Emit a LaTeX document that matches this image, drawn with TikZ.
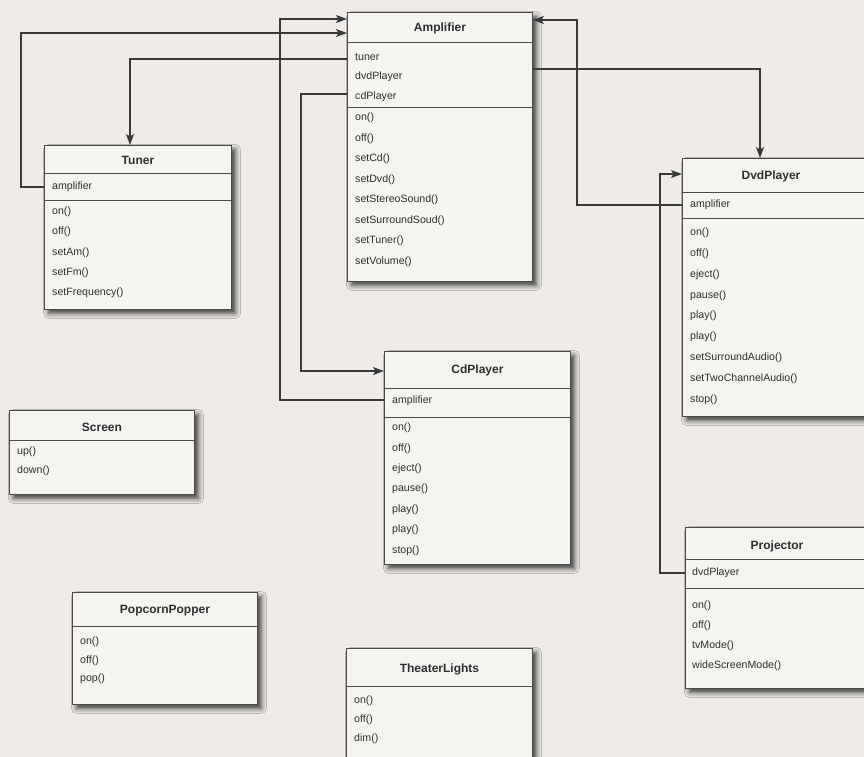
\documentclass[tikz,border=0pt]{standalone}
\usepackage{fontspec}
\setmainfont{Liberation Sans}
\usetikzlibrary{arrows.meta,shadows.blur}
\definecolor{bgc}{HTML}{EEEBE8}
\definecolor{boxfill}{HTML}{F6F4F1}
\definecolor{linec}{HTML}{4A4A4A}
\definecolor{connc}{HTML}{3A3A3A}
\definecolor{textc}{HTML}{2E2E2E}
\newcommand\umlrows[5]{%
  \foreach \t [count=\i from 0] in {#5} {%
    \node[rowtext] (#1-\i) at ({#2},{#3+\i*#4}) {\t};}}
\begin{document}
\begin{tikzpicture}[x=1pt,y=-1pt,
  box/.style={draw=linec, line width=0.9pt, fill=boxfill, anchor=north west, inner sep=0pt,
    blur shadow={shadow xshift=4pt, shadow yshift=-4pt, shadow blur radius=5pt, shadow opacity=75}},
  titletext/.style={font=\fontsize{12}{13}\selectfont\bfseries, text=textc, inner sep=0pt},
  rowtext/.style={font=\fontsize{10.6}{11}\selectfont, text=textc, anchor=west, inner sep=0pt},
  sepline/.style={draw=linec, line width=1pt},
  conn/.style={draw=connc, line width=1.1pt, -{Stealth[length=11pt,width=8pt,inset=2.5pt]}},
]
\useasboundingbox (0,0) rectangle (864,756);
\fill[bgc] (-6,-6) rectangle (870,762);
\begin{scope}
\clip (0,0) rectangle (864,756);

% ---------- Amplifier ----------
\node[box, minimum width=185pt, minimum height=269pt] (amp) at (347,12) {};
\node[titletext] (ampT) at (amp.north |- 0,28) {Amplifier};
\draw[sepline] (amp.west |- 0,42) -- (amp.east |- 0,42);
\draw[sepline] (amp.west |- 0,107) -- (amp.east |- 0,107);
\umlrows{ampa}{355}{57}{20}{tuner,dvdPlayer,cdPlayer}
\umlrows{ampm}{355}{118}{20.5}{on(),off(),setCd(),setDvd(),setStereoSound(),setSurroundSoud(),setTuner(),setVolume()}

% ---------- Tuner ----------
\node[box, minimum width=187pt, minimum height=164pt] (tuner) at (44,145) {};
\node[titletext] (tunerT) at (tuner.north |- 0,160) {Tuner};
\draw[sepline] (tuner.west |- 0,173) -- (tuner.east |- 0,173);
\draw[sepline] (tuner.west |- 0,200) -- (tuner.east |- 0,200);
\umlrows{tunera}{52}{187}{20}{amplifier}
\umlrows{tunerm}{52}{212}{20.2}{on(),off(),setAm(),setFm(),setFrequency()}

% ---------- DvdPlayer ----------
\node[box, minimum width=187pt, minimum height=258pt] (dvd) at (682,158) {};
\node[titletext] (dvdT) at (771,176) {DvdPlayer};
\draw[sepline] (dvd.west |- 0,192) -- (dvd.east |- 0,192);
\draw[sepline] (dvd.west |- 0,218) -- (dvd.east |- 0,218);
\umlrows{dvda}{690}{205}{20}{amplifier}
\umlrows{dvdm}{690}{233}{20.8}{on(),off(),eject(),pause(),play(),play(),setSurroundAudio(),setTwoChannelAudio(),stop()}

% ---------- Projector ----------
\node[box, minimum width=187pt, minimum height=161pt] (proj) at (685,527) {};
\node[titletext] (projT) at (777,546) {Projector};
\draw[sepline] (proj.west |- 0,559) -- (proj.east |- 0,559);
\draw[sepline] (proj.west |- 0,588) -- (proj.east |- 0,588);
\umlrows{proja}{692}{573}{20}{dvdPlayer}
\umlrows{projm}{692}{606}{20}{on(),off(),tvMode(),wideScreenMode()}

% ---------- CdPlayer ----------
\node[box, minimum width=186pt, minimum height=213pt] (cd) at (384,351) {};
\node[titletext] (cdT) at (cd.north |- 0,370) {CdPlayer};
\draw[sepline] (cd.west |- 0,388) -- (cd.east |- 0,388);
\draw[sepline] (cd.west |- 0,417) -- (cd.east |- 0,417);
\umlrows{cda}{392}{401}{20}{amplifier}
\umlrows{cdm}{392}{428}{20.4}{on(),off(),eject(),pause(),play(),play(),stop()}

% ---------- Screen ----------
\node[box, minimum width=185pt, minimum height=84pt] (scr) at (9,410) {};
\node[titletext] (scrT) at (scr.north |- 0,427) {Screen};
\draw[sepline] (scr.west |- 0,440) -- (scr.east |- 0,440);
\umlrows{scrm}{17}{452}{18.5}{up(),down()}

% ---------- PopcornPopper ----------
\node[box, minimum width=185pt, minimum height=112pt] (pop) at (72,592) {};
\node[titletext] (popT) at (pop.north |- 0,611) {PopcornPopper};
\draw[sepline] (pop.west |- 0,626) -- (pop.east |- 0,626);
\umlrows{popm}{80}{642}{18.5}{on(),off(),pop()}

% ---------- TheaterLights ----------
\node[box, minimum width=186pt, minimum height=125pt] (tl) at (346,648) {};
\node[titletext] (tlT) at (tl.north |- 0,669) {TheaterLights};
\draw[sepline] (tl.west |- 0,686) -- (tl.east |- 0,686);
\umlrows{tlm}{354}{701}{18.8}{on(),off(),dim()}

% ---------- connector end points ----------
\coordinate (tunerAmp) at (tuner.west |- 0,187);
\coordinate (ampTuner) at (amp.west |- 0,59);
\coordinate (ampCd) at (amp.west |- 0,94);
\coordinate (ampDvd) at (amp.east |- 0,69);
\coordinate (cdAmp) at (cd.west |- 0,400);
\coordinate (dvdAmp) at (dvd.west |- 0,205);
\coordinate (projDvd) at (proj.west |- 0,573);

% ---------- connectors ----------
\draw[conn] (tunerAmp) -| (21,33) -- (amp.west |- 0,33);
\draw[conn] (ampTuner) -| (tuner.north -| 130,0);
\draw[conn] (cdAmp) -| (280,19) -- (amp.west |- 0,19);
\draw[conn] (ampCd) -| (301,371) -- (cd.west |- 0,371);
\draw[conn] (ampDvd) -| (dvd.north -| 760,0);
\draw[conn] (dvdAmp) -| (577,20) -- (amp.east |- 0,20);
\draw[conn] (projDvd) -| (660,174) -- (dvd.west |- 0,174);
\end{scope}
\end{tikzpicture}
\end{document}
